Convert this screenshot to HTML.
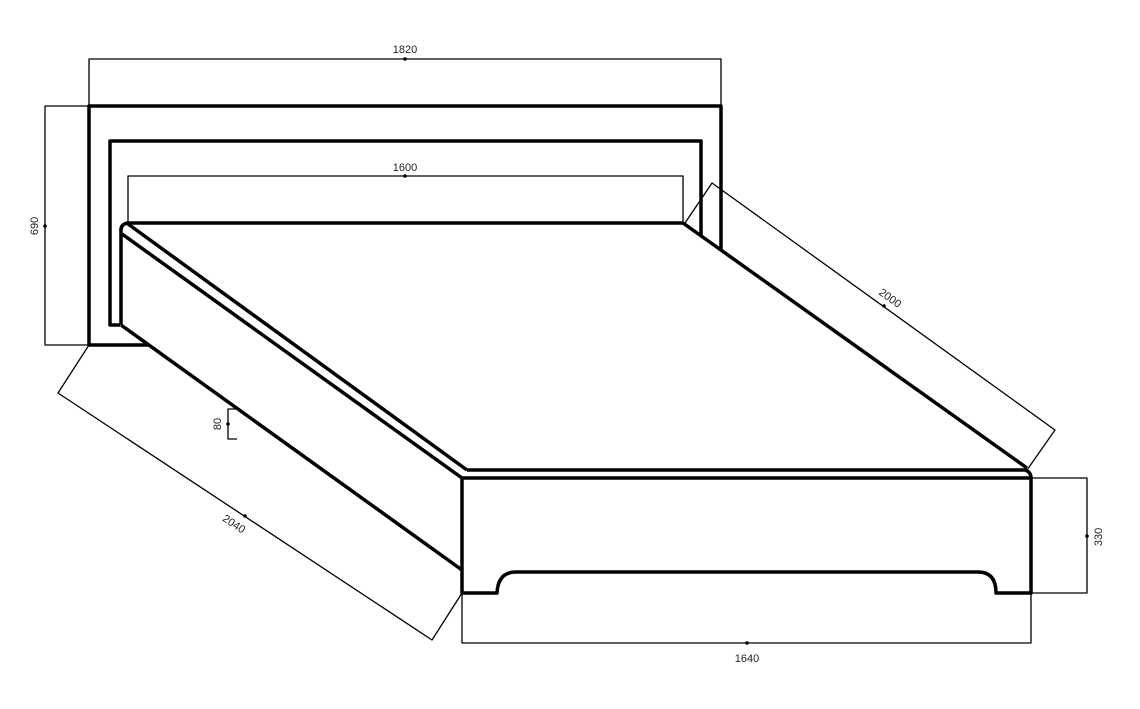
<!DOCTYPE html>
<html><head><meta charset="utf-8"><style>
html,body{margin:0;padding:0;background:#fff}
svg{display:block}
text{font-family:"Liberation Sans",sans-serif;font-size:11px;fill:#222}
</style></head><body>
<svg width="1140" height="709" viewBox="0 0 1140 709" xmlns="http://www.w3.org/2000/svg">
<g fill="none" stroke="#000" stroke-linejoin="round">
<path d="M148,345 H89 V106 H721 V250" stroke-width="3.5"/>
<path d="M120,325 H110 V141 H701 V235" stroke-width="3.5"/>
<path d="M683,223 H128 Q120,224 121,232 V325" stroke-width="3.5"/>
<path d="M128,224 L467,470" stroke-width="3.5"/>
<path d="M122,234 L462,478" stroke-width="3.5"/>
<path d="M121,325 L462,570" stroke-width="3.5"/>
<path d="M683,223 L1027,468" stroke-width="3.5"/>
<path d="M467,470 H1025 Q1031,472 1031,478" stroke-width="3.5"/>
<path d="M462,478 H1031 V593 H996 Q996,572 978,572 H516 Q498,572 497,593 H462 Z" stroke-width="3.5"/>
<g stroke-width="1.3">
<path d="M89,106 V59 H721 V106"/>
<path d="M128,223 V176 H683 V223"/>
<path d="M89,106 H45 V345 H89"/>
<path d="M237,409 H228 V439 H237"/>
<path d="M89,345 L58,393 L432,640 L462,593"/>
<path d="M685,223 L712,183 L1055,430 L1027,470"/>
<path d="M1031,478 H1087 V593 H1031"/>
<path d="M462,593 V643 H1031 V593"/>
</g>
</g>
<g fill="#000">
<circle cx="405" cy="59" r="1.8"/><circle cx="405" cy="176" r="1.8"/>
<circle cx="45" cy="226" r="1.8"/><circle cx="228" cy="424" r="1.8"/>
<circle cx="245" cy="516" r="1.8"/><circle cx="884" cy="306" r="1.8"/>
<circle cx="1087" cy="536" r="1.8"/><circle cx="747" cy="643" r="1.8"/>
</g>
<text x="405" y="53" text-anchor="middle">1820</text>
<text x="405" y="171" text-anchor="middle">1600</text>
<text transform="translate(38,226) rotate(-90)" text-anchor="middle">690</text>
<text transform="translate(221,424) rotate(-90)" text-anchor="middle">80</text>
<text transform="translate(232,527) rotate(33.4)" text-anchor="middle">2040</text>
<text transform="translate(888,301) rotate(35.8)" text-anchor="middle">2000</text>
<text transform="translate(1102,537) rotate(-90)" text-anchor="middle">330</text>
<text x="747" y="662" text-anchor="middle">1640</text>
</svg>
</body></html>
